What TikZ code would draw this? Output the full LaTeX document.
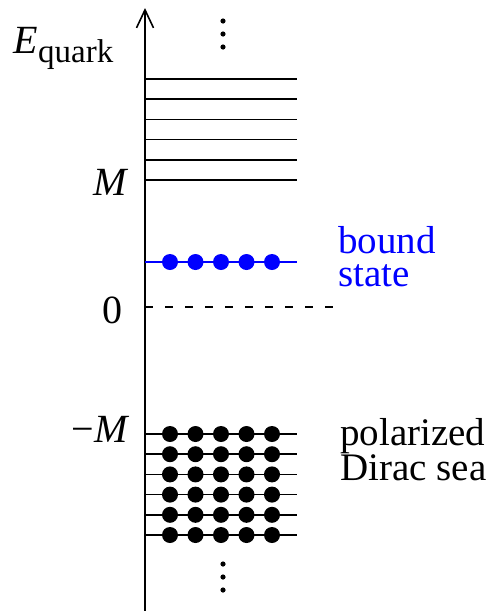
\documentclass[tikz,border=0pt]{standalone}
\usepackage{fontspec}
\setmainfont{Liberation Serif}
\usetikzlibrary{arrows.meta}
\definecolor{bsblue}{RGB}{0,0,255}
\begin{document}
\begin{tikzpicture}[x=1pt,y=-1pt,
  lvl/.style={line width=1.6pt},
  lbl/.style={inner sep=0pt, font=\fontsize{40}{30}\selectfont},
  twoline/.style={inner sep=0pt, font=\fontsize{39}{33}\selectfont, align=left, anchor=north west},
  sublbl/.style={inner sep=0pt, font=\fontsize{33}{33}\selectfont},
  bigdot/.style={radius=8pt},
  smalldot/.style={radius=2.6pt}]
\useasboundingbox (0,0) rectangle (493,611);
% axis
\coordinate (ab) at (145,611);
\coordinate (at) at (145,8);
\draw[line width=1.6pt, -{Straight Barb[length=18pt,width=17pt]}] (ab) -- (at);
% top dots
\foreach \y in {21,34,47} \fill (223,\y) circle[smalldot];
% upper levels
\foreach \i in {0,...,5} \draw[lvl] (145,{79+20.2*\i}) -- (297,{79+20.2*\i});
% bound state
\draw[lvl,bsblue] (145,262) -- (297,262);
\foreach \x in {0,...,4} \fill[bsblue] ({170+25.5*\x},262) circle[bigdot];
% zero line
\draw[lvl, dash pattern=on 8pt off 12pt] (145,307) -- (337,307);
% Dirac sea
\foreach \i in {0,...,5} {
  \draw[lvl] (145,{434+20.2*\i}) -- (297,{434+20.2*\i});
  \foreach \x in {0,...,4} \fill ({170+25.5*\x},{434+20.2*\i}) circle[bigdot];
}
% bottom dots
\foreach \y in {564,577,590} \fill (223,\y) circle[smalldot];
% labels
\node[lbl, anchor=base west] (E) at (13,53) {\itshape E};
\node[sublbl, anchor=base west] (q) at (38,62) {quark};
\node[lbl, anchor=base east] (M) at (127,195) {\itshape M};
\node[lbl, anchor=base east] (zero) at (123,323) {0};
\node[lbl, anchor=base east] (mM) at (128,442) {−\itshape M};
\node[twoline, text=bsblue] (bound) at (338,226) {bound\\state};
\node[twoline] (sea) at (340,418) {polarized\\Dirac sea};
\end{tikzpicture}
\end{document}
